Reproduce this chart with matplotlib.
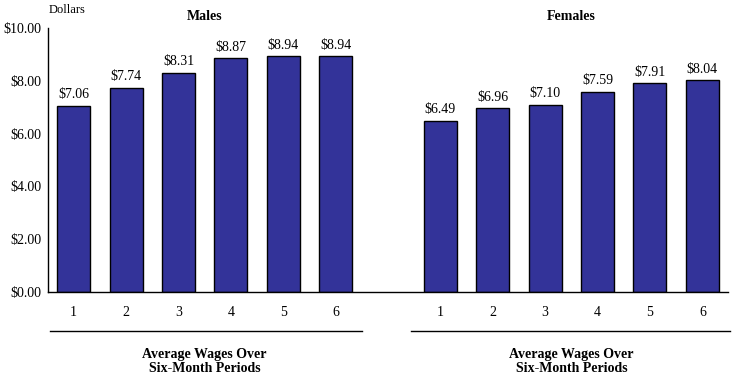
import matplotlib
matplotlib.use('Agg')
import matplotlib.pyplot as plt
import matplotlib.transforms as mtransforms
import numpy as np

periods = ['1', '2', '3', '4', '5', '6']
males = [7.06, 7.74, 8.31, 8.87, 8.94, 8.94]
females = [6.49, 6.96, 7.10, 7.59, 7.91, 8.04]
group_titles = ['Males', 'Females']
group_label = 'Average Wages Over\nSix-Month Periods'
yticks = [0, 2, 4, 6, 8, 10]

plt.rcParams['font.family'] = ['Liberation Serif', 'DejaVu Serif']

fig = plt.figure(figsize=(7.34, 3.75), dpi=100)
ax = fig.add_axes([48 / 734, 1 - 292 / 375, 680 / 734, 264 / 375])

x_m = np.arange(len(males))
x_f = np.arange(len(females)) + len(males) + 1
bar_color = '#333399'

for xs, vals in [(x_m, males), (x_f, females)]:
    ax.bar(xs, vals, width=0.63, color=bar_color, edgecolor='black', linewidth=1)
    for x, v in zip(xs, vals):
        ax.annotate('$%.2f' % v, (x, v), xytext=(0, 3), textcoords='offset points',
                    ha='center', va='bottom', fontsize=10)

ax.set_xlim(-0.49, 12.49)
ax.set_ylim(0, 10)
ax.set_yticks(yticks)
ax.set_yticklabels(['$%.2f' % t for t in yticks], fontsize=10)
ax.set_xticks(list(x_m) + list(x_f))
ax.set_xticklabels(periods + periods, fontsize=10)
ax.tick_params(axis='both', length=0, pad=5)
ax.tick_params(axis='x', pad=10)
ax.spines['top'].set_visible(False)
ax.spines['right'].set_visible(False)
ax.spines['left'].set_linewidth(1)
ax.spines['bottom'].set_linewidth(1)

trans = mtransforms.blended_transform_factory(ax.transData, ax.transAxes)
spans = [(-0.45, 5.5), (6.44, 12.53)]
centers = [(x_m[0] + x_m[-1]) / 2, (x_f[0] + x_f[-1]) / 2]
for (a, b), c, title in zip(spans, centers, group_titles):
    ax.plot([a, b], [-0.148, -0.148], color='black', linewidth=1,
            transform=trans, clip_on=False)
    ax.text(c, -0.265, group_label, transform=trans, ha='center', va='center',
            fontsize=10, fontweight='bold', linespacing=1.1)
    ax.text(c, 1.045, title, transform=trans, ha='center', va='center',
            fontsize=10, fontweight='bold')

fig.text(67 / 734, 1 - 10 / 375, 'Dollars', ha='center', va='center', fontsize=9)

fig.savefig('out.png', dpi=100)
